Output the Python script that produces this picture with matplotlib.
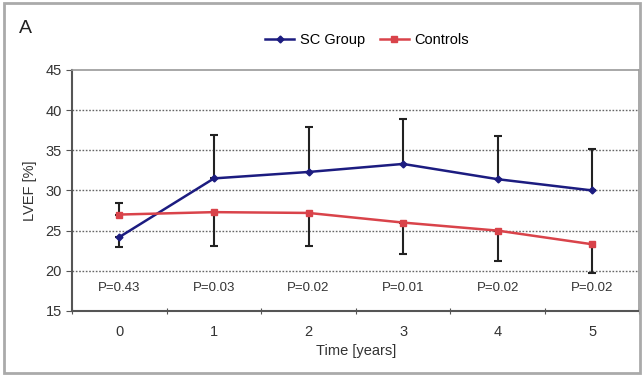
import matplotlib.pyplot as plt
from matplotlib.patches import Rectangle

# data
years = [0, 1, 2, 3, 4, 5]
sc_mean = [24.2, 31.5, 32.3, 33.3, 31.4, 30.0]
sc_err_low = [1.2, 0, 0, 0, 0, 0]
sc_err_up = [0, 5.4, 5.6, 5.6, 5.4, 5.2]
ctrl_mean = [27.0, 27.3, 27.2, 26.0, 25.0, 23.3]
ctrl_err_low = [0, 4.2, 4.1, 3.9, 3.8, 3.6]
ctrl_err_up = [1.4, 0, 0, 0, 0, 0]
p_values = ['P=0.43', 'P=0.03', 'P=0.02', 'P=0.01', 'P=0.02', 'P=0.02']

plt.rcParams['font.family'] = ['Liberation Sans', 'DejaVu Sans']

fig = plt.figure(figsize=(6.44, 3.76), dpi=100)
ax = fig.add_axes([0.112, 0.173, 0.881, 0.641])

x = [i + 0.5 for i in range(len(years))]

ax.errorbar(x, sc_mean, yerr=[sc_err_low, sc_err_up], fmt='none',
            ecolor='#222222', elinewidth=1.5, capsize=3, capthick=1.5, zorder=2)
ax.errorbar(x, ctrl_mean, yerr=[ctrl_err_low, ctrl_err_up], fmt='none',
            ecolor='#222222', elinewidth=1.5, capsize=3, capthick=1.5, zorder=2)
ax.plot(x, sc_mean, color='#1c1c80', lw=1.8, marker='D', ms=3.5,
        label='SC Group', zorder=3)
ax.plot(x, ctrl_mean, color='#d9434a', lw=1.8, marker='s', ms=4.5,
        label='Controls', zorder=3)

for xi, p in zip(x, p_values):
    ax.text(xi, 17.8, p, ha='center', va='center', fontsize=9.5, color='#333333')

ax.set_xlim(0, 6)
ax.set_ylim(15, 45)
ax.set_yticks([15, 20, 25, 30, 35, 40, 45])
ax.set_xticks(range(7), minor=False)
ax.set_xticklabels([])
ax.set_xticks(x, minor=True)
ax.set_xticklabels([str(y) for y in years], minor=True)
ax.tick_params(axis='x', which='minor', length=0, pad=10, labelsize=10.5, colors='#333333')
ax.tick_params(axis='x', which='major', length=4, direction='inout', color='#555555')
ax.tick_params(axis='y', length=4, direction='out', labelsize=10.5, colors='#333333')
ax.tick_params(axis='y', color='#555555')

for yv in [20, 25, 30, 35, 40]:
    ax.axhline(yv, color='#666666', ls=(0, (1.2, 1.2)), lw=1, zorder=1)

for s in ['left', 'bottom']:
    ax.spines[s].set_color('#555555')
    ax.spines[s].set_linewidth(1.5)
for s in ['top', 'right']:
    ax.spines[s].set_color('#999999')
    ax.spines[s].set_linewidth(1.2)

ax.set_ylabel('LVEF [%]', fontsize=10.5, color='#333333', labelpad=6)
ax.set_xlabel('Time [years]', fontsize=10.5, color='#333333', labelpad=4)

ax.legend(loc='lower center', bbox_to_anchor=(0.52, 1.04), ncol=2, frameon=False,
          fontsize=10.5, handlelength=2, columnspacing=1.0, handletextpad=0.4)

fig.text(0.03, 0.925, 'A', fontsize=14, color='#222222', va='center')
fig.patches.append(Rectangle((0.006, 0.008), 0.988, 0.985, transform=fig.transFigure,
                             fill=False, ec='#aaaaaa', lw=2))

fig.savefig('out.png', dpi=100)
